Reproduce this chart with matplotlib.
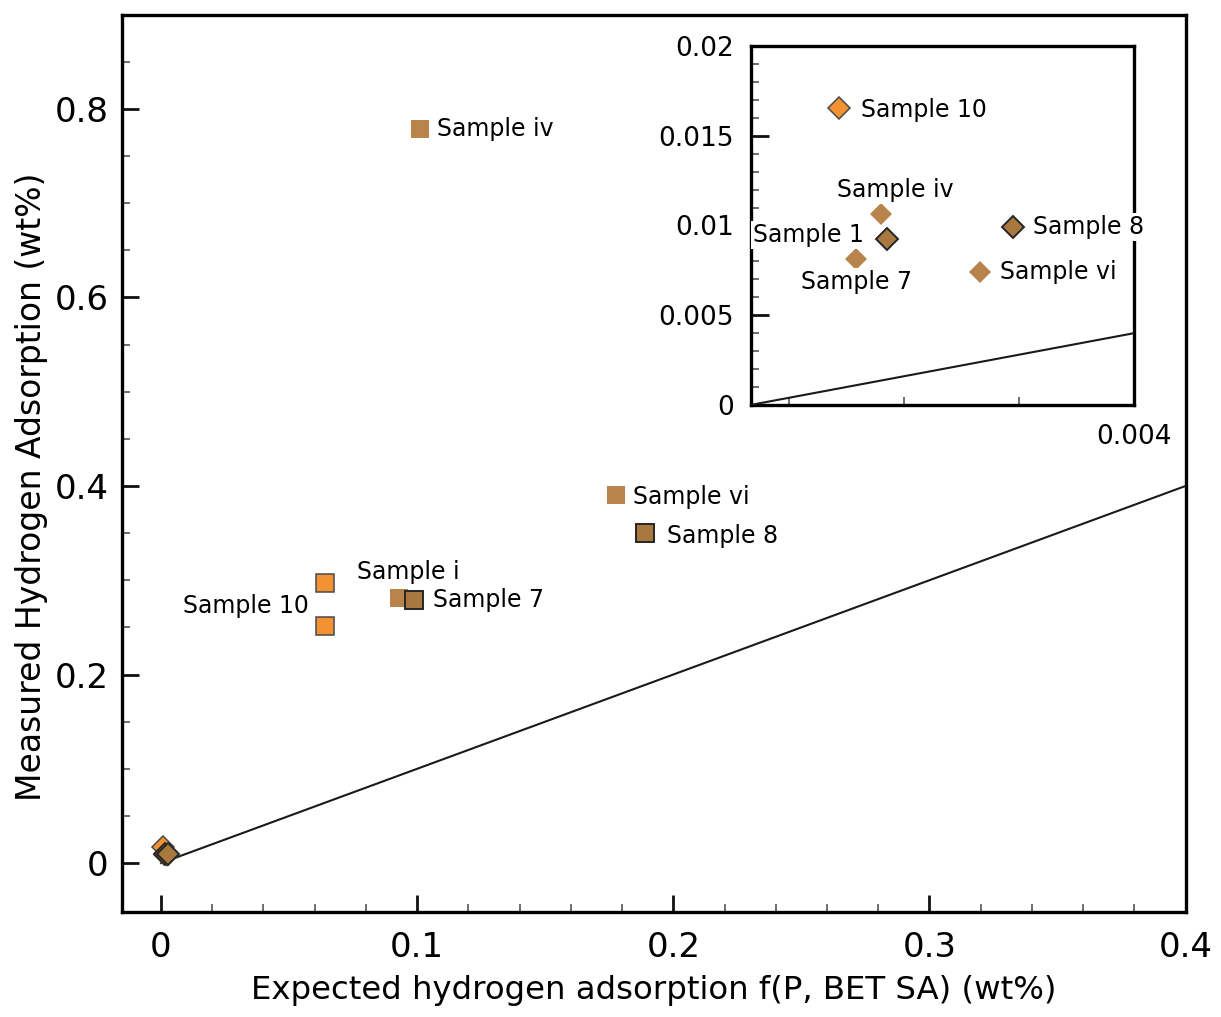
import matplotlib
matplotlib.use("Agg")
import matplotlib.pyplot as plt
from matplotlib.ticker import MultipleLocator, FixedLocator, FuncFormatter, NullFormatter

plt.rcParams['font.family'] = ['DejaVu Sans']

# Bulk samples (squares): expected vs measured hydrogen uptake, wt%
bulk_names = ["Sample iv", "Sample vi", "Sample i", "Sample 7", "Sample 8", "Sample 10", "Sample 10"]
bulk_expected = [0.101, 0.1776, 0.093, 0.0989, 0.1889, 0.0641, 0.0641]
bulk_measured = [0.779, 0.390, 0.281, 0.279, 0.350, 0.297, 0.251]
bulk_group = ["light", "light", "light", "dark", "dark", "orange", "orange"]

# Low-uptake samples (diamonds), also shown enlarged in the inset
low_names = ["Sample 10", "Sample iv", "Sample 7", "Sample vi", "Sample 1", "Sample 8"]
low_expected = [0.000926, 0.001358, 0.001103, 0.00239, 0.00142, 0.002734]
low_measured = [0.01653, 0.01064, 0.00813, 0.00739, 0.00925, 0.00993]
low_group = ["orange", "light", "light", "light", "dark", "dark"]

# Parity line (measured = expected)
parity = [0.0, 0.4]

main_xticks = [0, 0.1, 0.2, 0.3, 0.4]
main_yticks = [0, 0.2, 0.4, 0.6, 0.8]
main_yminor = [0.05 * k for k in range(1, 18)]
inset_yticks = [0, 0.005, 0.01, 0.015, 0.02]
inset_xticks = [0.004]
inset_xminor = [0.0004, 0.0016, 0.0028]

styles = {
    "light": dict(markerfacecolor="#B8844B", markeredgecolor="none", markeredgewidth=0),
    "dark": dict(markerfacecolor="#A8783E", markeredgecolor="#262626", markeredgewidth=1.4),
    "orange": dict(markerfacecolor="#F29232", markeredgecolor="#4a4a4a", markeredgewidth=1.1),
}
draw_order = ["light", "orange", "dark"]

PX = 0.72  # points per pixel at 100 dpi

fig = plt.figure(figsize=(12.21, 10.17), dpi=100)
ax = fig.add_axes([0.1002, 0.1037, 0.8708, 0.8820])
ins = fig.add_axes([0.6147, 0.6018, 0.3141, 0.3530])

fmt = FuncFormatter(lambda v, p: "0" if abs(v) < 1e-12 else "%g" % v)


def plot_group(axis, xs, ys, groups, marker, ms):
    for g in draw_order:
        gx = [x for x, gg in zip(xs, groups) if gg == g]
        gy = [y for y, gg in zip(ys, groups) if gg == g]
        axis.plot(gx, gy, linestyle="none", marker=marker, markersize=ms,
                  zorder=4, **styles[g])


# ---- main axes ----
ax.plot(parity, parity, color="#1a1a1a", lw=1.5, zorder=3)
plot_group(ax, low_expected, low_measured, low_group, "D", 11.5)
plot_group(ax, bulk_expected, bulk_measured, bulk_group, "s", 13)

ax.set_xlim(-0.0151, 0.4)
ax.set_ylim(-0.0514, 0.9)
ax.xaxis.set_major_locator(FixedLocator(main_xticks))
ax.yaxis.set_major_locator(FixedLocator(main_yticks))
ax.xaxis.set_minor_locator(MultipleLocator(0.02))
ax.yaxis.set_minor_locator(FixedLocator(main_yminor))
ax.xaxis.set_major_formatter(fmt)
ax.yaxis.set_major_formatter(fmt)
ax.tick_params(which="major", direction="in", length=12, width=2.0, labelsize=24.5,
               top=False, right=False, color="#111111")
ax.tick_params(which="minor", direction="in", length=6, width=1.2,
               top=False, right=False, color="#555555")
ax.tick_params(axis="y", which="major", pad=10)
ax.tick_params(axis="x", which="major", pad=14)
for sp in ax.spines.values():
    sp.set_linewidth(2.4)

ax.set_xlabel("Expected hydrogen adsorption f(P, BET SA) (wt%)", fontsize=23.3, va="center")
ax.set_ylabel("Measured Hydrogen Adsorption (wt%)", fontsize=23.8, va="center")
ax.xaxis.set_label_coords(0.5, -0.0875)
ax.yaxis.set_label_coords(-0.085, 0.4735)

# label placement for the bulk points: (dx px, dy px, ha)
main_label_pos = {
    0: (17, 0, "left"),
    1: (17, -2, "left"),
    2: (9, 26, "center"),
    3: (19, 0, "left"),
    4: (22, -3, "left"),
    5: (-16, -23, "right"),
}
for i, (dx, dy, ha) in main_label_pos.items():
    ax.annotate(bulk_names[i], (bulk_expected[i], bulk_measured[i]),
                xytext=(dx * PX, dy * PX), textcoords="offset points",
                ha=ha, va="center", fontsize=17, zorder=6)

# ---- inset axes ----
ins.set_facecolor("white")
ins.plot(parity, parity, color="#1a1a1a", lw=1.5, zorder=3)
plot_group(ins, low_expected, low_measured, low_group, "D", 11.5)
ins.set_xlim(0, 0.004)
ins.set_ylim(0, 0.02)
ins.xaxis.set_major_locator(FixedLocator(inset_xticks))
ins.xaxis.set_minor_locator(FixedLocator(inset_xminor))
ins.xaxis.set_major_formatter(fmt)
ins.xaxis.set_minor_formatter(NullFormatter())
ins.yaxis.set_major_locator(FixedLocator(inset_yticks))
ins.yaxis.set_minor_locator(MultipleLocator(0.001))
ins.yaxis.set_major_formatter(fmt)
ins.tick_params(which="major", direction="in", length=13, width=2.0, labelsize=19,
                top=False, right=False, color="#111111")
ins.tick_params(which="minor", direction="in", length=6, width=1.2,
                top=False, right=False, color="#555555")
ins.tick_params(axis="x", which="major", length=0, pad=14)
ins.tick_params(axis="y", which="major", pad=12)
for sp in ins.spines.values():
    sp.set_linewidth(2.4)

inset_label_pos = {
    0: (22, -2, "left"),
    1: (15, 24, "center"),
    2: (0, -23, "center"),
    3: (20, 0, "left"),
    4: (-23, 4, "right"),
    5: (20, 0, "left"),
}
for i, (dx, dy, ha) in inset_label_pos.items():
    ins.annotate(low_names[i], (low_expected[i], low_measured[i]),
                 xytext=(dx * PX, dy * PX), textcoords="offset points",
                 ha=ha, va="center", fontsize=17, zorder=6, annotation_clip=False,
                 bbox=dict(boxstyle="square,pad=0.08", fc="white", ec="none"))

fig.savefig("out.png", dpi=100, facecolor="white")
